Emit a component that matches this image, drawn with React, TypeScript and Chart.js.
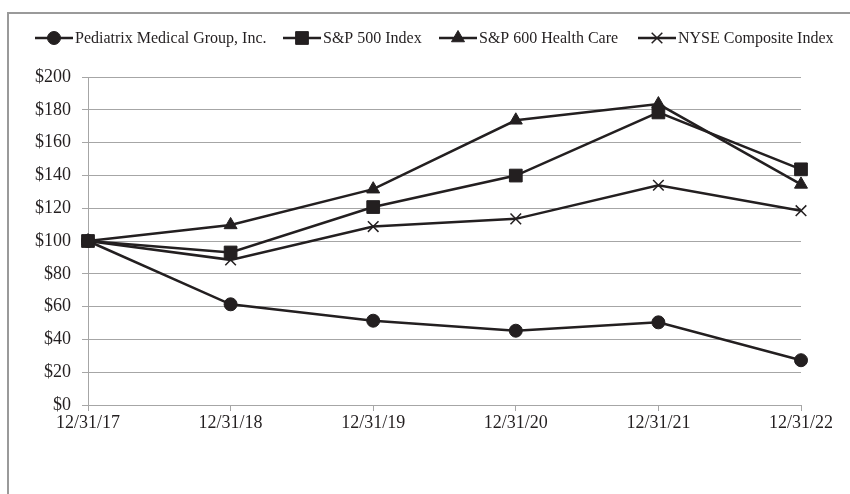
import React, { useEffect, useRef } from "react";
import { Chart, registerables } from "chart.js";
import { drawPoint } from "chart.js/helpers";

Chart.register(...registerables);

const categories = ["12/31/17", "12/31/18", "12/31/19", "12/31/20", "12/31/21", "12/31/22"];
const pediatrix = [100, 61.4, 51.4, 45.3, 50.4, 27.3];
const sp500 = [100, 93, 120.7, 139.9, 178.4, 143.7];
const sp600hc = [100, 109.8, 131.6, 173.6, 183.5, 134.5];
const nyse = [100, 88.5, 108.8, 113.5, 134, 118.5];
const seriesLabels = [
  "Pediatrix Medical Group, Inc.",
  "S&P 500 Index",
  "S&P 600 Health Care",
  "NYSE Composite Index",
];
const yTicks = [0, 20, 40, 60, 80, 100, 120, 140, 160, 180, 200];

const INK = "#231f20";
const GRID = "#a6a6a6";
const FONT = "'Liberation Serif', 'Times New Roman', serif";

const legendStarts = [35, 283, 439, 638];

const framePlugin = {
  id: "frame",
  beforeDraw(chart: any) {
    const ctx = chart.ctx;
    ctx.save();
    ctx.strokeStyle = "#9a9a9a";
    ctx.lineWidth = 2;
    ctx.beginPath();
    ctx.moveTo(8, 494);
    ctx.lineTo(8, 13);
    ctx.lineTo(850, 13);
    ctx.stroke();
    ctx.restore();
  },
};

const legendPlugin = {
  id: "customLegend",
  afterDraw(chart: any) {
    const ctx = chart.ctx;
    const y = 38;
    ctx.save();
    chart.data.datasets.forEach((ds: any, i: number) => {
      const sx = legendStarts[i];
      ctx.strokeStyle = INK;
      ctx.lineWidth = 2.5;
      ctx.beginPath();
      ctx.moveTo(sx, y);
      ctx.lineTo(sx + 38, y);
      ctx.stroke();
      ctx.fillStyle = INK;
      ctx.strokeStyle = INK;
      ctx.lineWidth = ds.pointBorderWidth;
      drawPoint(
        ctx,
        { pointStyle: ds.pointStyle, radius: ds.pointRadius, rotation: 0, borderWidth: ds.pointBorderWidth },
        sx + 19,
        y
      );
      ctx.fillStyle = INK;
      ctx.font = `16px ${FONT}`;
      ctx.textBaseline = "middle";
      ctx.textAlign = "left";
      ctx.fillText(ds.label, sx + 40, y + 1);
    });
    ctx.restore();
  },
};

export default function App() {
  const ref = useRef<HTMLCanvasElement | null>(null);
  useEffect(() => {
    if (!ref.current) return;
    const mk = (label: string, data: number[], style: string, r: number, bw: number) => ({
      label,
      data,
      borderColor: INK,
      backgroundColor: INK,
      borderWidth: 2.5,
      pointStyle: style,
      pointRadius: r,
      pointBorderWidth: bw,
      pointBackgroundColor: INK,
      pointBorderColor: INK,
      tension: 0,
      fill: false,
    });
    const chart = new Chart(ref.current, {
      type: "line",
      data: {
        labels: categories,
        datasets: [
          mk(seriesLabels[0], pediatrix, "circle", 6.5, 1),
          mk(seriesLabels[1], sp500, "rect", 9, 1),
          mk(seriesLabels[2], sp600hc, "triangle", 7.5, 1),
          mk(seriesLabels[3], nyse, "crossRot", 7.5, 1.5),
        ] as any,
      },
      options: {
        animation: false,
        responsive: true,
        maintainAspectRatio: false,
        layout: { padding: { left: 8, right: 49, top: 77, bottom: 49 } },
        plugins: {
          legend: { display: false },
          tooltip: { enabled: false },
        },
        scales: {
          x: {
            type: "category",
            offset: false,
            grid: {
              display: true,
              drawOnChartArea: false,
              drawTicks: true,
              tickLength: 6,
              color: GRID,
            },
            border: { display: true, color: GRID, width: 1 },
            ticks: {
              color: INK,
              font: { family: FONT, size: 18 },
              padding: 1,
              maxRotation: 0,
              autoSkip: false,
            },
            afterFit(scale: any) {
              scale.height = 40;
            },
          },
          y: {
            min: 0,
            max: 200,
            afterBuildTicks(scale: any) {
              scale.ticks = yTicks.map((v) => ({ value: v }));
            },
            grid: {
              color: GRID,
              lineWidth: 1,
              drawTicks: true,
              tickLength: 6,
            },
            border: { display: true, color: GRID, width: 1 },
            ticks: {
              color: INK,
              font: { family: FONT, size: 18 },
              padding: 11,
              callback: (v: any) => "$" + v,
            },
            afterFit(scale: any) {
              scale.width = 80;
            },
          },
        },
      } as any,
      plugins: [framePlugin, legendPlugin],
    });
    return () => chart.destroy();
  }, []);
  return (
    <div style={{ position: "fixed", left: 0, top: 0, width: 850, height: 494, background: "#fff" }}>
      <canvas ref={ref} />
    </div>
  );
}
